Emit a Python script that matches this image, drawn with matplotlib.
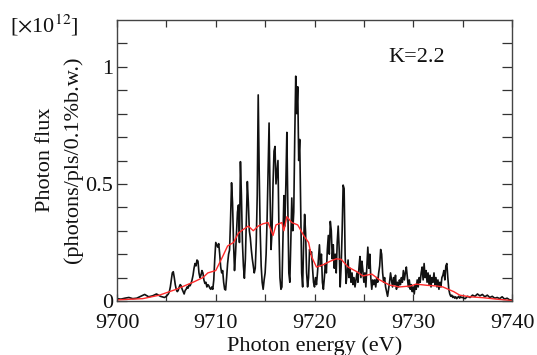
import numpy as np
import matplotlib
matplotlib.use("Agg")
import matplotlib.pyplot as plt

plt.rcParams['font.family'] = ['Liberation Serif', 'DejaVu Serif']
plt.rcParams['mathtext.fontset'] = 'stix'

# ---- black (measured) spectrum, three sampling segments ----
seg1_energy = np.round(np.arange(9700.0, 9704.81, 0.4), 2)
seg1_flux = [0.01, 0.008, 0.012, 0.015, 0.01, 0.012, 0.02, 0.028, 0.018, 0.022, 0.03, 0.02, 0.015]

seg2_energy = np.round(np.arange(9705.0, 9734.95, 0.1), 2)
seg2_flux = [
    0.02, 0.025, 0.03, 0.04, 0.06, 0.09, 0.12, 0.125, 0.10, 0.07,      # 9705
    0.05, 0.04, 0.045, 0.06, 0.07, 0.065, 0.05, 0.04, 0.03, 0.045,     # 9706
    0.05, 0.06, 0.055, 0.07, 0.065, 0.075, 0.09, 0.11, 0.14, 0.16,     # 9707
    0.15, 0.175, 0.17, 0.12, 0.10, 0.11, 0.13, 0.12, 0.09, 0.075,      # 9708
    0.08, 0.06, 0.07, 0.065, 0.055, 0.05, 0.06, 0.05, 0.09, 0.18,      # 9709
    0.25, 0.24, 0.23, 0.245, 0.20, 0.145, 0.12, 0.13, 0.08, 0.05,      # 9710
    0.047, 0.10, 0.16, 0.20, 0.218, 0.35, 0.505, 0.42, 0.25, 0.13,     # 9711
    0.20, 0.29, 0.38, 0.41, 0.25, 0.595, 0.45, 0.25, 0.15, 0.097,      # 9712
    0.18, 0.35, 0.51, 0.42, 0.30, 0.27, 0.22, 0.18, 0.15, 0.12,        # 9713
    0.14, 0.25, 0.45, 0.88, 0.55, 0.30, 0.15, 0.08, 0.05, 0.09,        # 9714
    0.12, 0.20, 0.35, 0.55, 0.76, 0.45, 0.22, 0.30, 0.50, 0.64,        # 9715
    0.66, 0.50, 0.55, 0.60, 0.30, 0.10, 0.05, 0.06, 0.25, 0.45,        # 9716
    0.32, 0.50, 0.72, 0.40, 0.12, 0.08, 0.25, 0.44, 0.30, 0.38,        # 9717
    0.70, 0.96, 0.80, 0.915, 0.60, 0.69, 0.40, 0.12, 0.06, 0.25,       # 9718
    0.37, 0.29, 0.12, 0.06, 0.10, 0.22, 0.20, 0.21, 0.14, 0.08,        # 9719
    0.06, 0.10, 0.07, 0.12, 0.18, 0.24, 0.15, 0.20, 0.08, 0.05,        # 9720
    0.10, 0.16, 0.12, 0.22, 0.28, 0.20, 0.34, 0.30, 0.18, 0.24,        # 9721
    0.14, 0.20, 0.12, 0.25, 0.32, 0.22, 0.06, 0.15, 0.30, 0.495,       # 9722
    0.48, 0.20, 0.075, 0.12, 0.175, 0.10, 0.14, 0.08, 0.12, 0.07,      # 9723
    0.10, 0.06, 0.09, 0.12, 0.08, 0.14, 0.19, 0.10, 0.17, 0.13,        # 9724
    0.08, 0.12, 0.06, 0.15, 0.23, 0.14, 0.20, 0.10, 0.05, 0.09,        # 9725
    0.07, 0.09, 0.06, 0.10, 0.08, 0.12, 0.15, 0.22, 0.20, 0.12,        # 9726
    0.08, 0.10, 0.06, 0.04, 0.02, 0.05, 0.08, 0.12, 0.09, 0.06,        # 9727
    0.10, 0.07, 0.11, 0.05, 0.08, 0.06, 0.09, 0.07, 0.10, 0.08,        # 9728
    0.13, 0.09, 0.12, 0.145, 0.10, 0.06, 0.09, 0.05, 0.07, 0.04,       # 9729
    0.06, 0.03, 0.07, 0.05, 0.09, 0.06, 0.10, 0.08, 0.12, 0.145,       # 9730
    0.09, 0.16, 0.10, 0.13, 0.08, 0.12, 0.07, 0.11, 0.06, 0.10,        # 9731
    0.08, 0.12, 0.07, 0.10, 0.06, 0.09, 0.05, 0.08, 0.06, 0.10,        # 9732
    0.11, 0.13, 0.09, 0.15, 0.16, 0.10, 0.05, 0.03, 0.02, 0.025,       # 9733
    0.015, 0.02, 0.012, 0.018, 0.01, 0.015, 0.02, 0.012, 0.018, 0.015, # 9734
]

seg3_energy = np.round(np.arange(9735.0, 9740.01, 0.25), 2)
seg3_flux = [0.015, 0.01, 0.02, 0.015, 0.025, 0.02, 0.03, 0.022, 0.028, 0.018,
             0.025, 0.015, 0.02, 0.012, 0.015, 0.01, 0.018, 0.008, 0.012, 0.005, 0.004]

# ---- red (averaged) spectrum ----
avg_energy = [9700.0, 9702.6, 9704.3, 9706.0, 9707.7, 9708.7, 9709.2, 9710.0, 9710.7,
              9711.2, 9711.8, 9712.3, 9712.6, 9713.3, 9713.8, 9714.3, 9714.8, 9715.3,
              9715.8, 9716.1, 9716.7, 9716.9, 9717.2, 9717.7, 9718.3, 9718.9, 9719.4,
              9719.7, 9720.2, 9720.9, 9721.6, 9722.2, 9722.7, 9723.4, 9724.3, 9724.9,
              9725.8, 9726.6, 9727.6, 9728.6, 9729.7, 9730.3, 9731.4, 9732.4, 9733.0,
              9734.1, 9734.7, 9735.7, 9737.1, 9738.4, 9740.0]
avg_flux = [0.005, 0.01, 0.025, 0.05, 0.08, 0.10, 0.12, 0.13, 0.19,
            0.235, 0.25, 0.29, 0.30, 0.32, 0.30, 0.32, 0.33, 0.335,
            0.28, 0.325, 0.335, 0.30, 0.36, 0.335, 0.325, 0.28, 0.25,
            0.19, 0.145, 0.155, 0.17, 0.18, 0.178, 0.145, 0.125, 0.107,
            0.115, 0.09, 0.068, 0.06, 0.064, 0.072, 0.067, 0.064, 0.06,
            0.04, 0.025, 0.018, 0.014, 0.008, 0.002]

x_ticks = [9700, 9710, 9720, 9730, 9740]
y_ticks = [0, 0.5, 1]
y_tick_labels = ["0", "0.5", "1"]

energy = np.concatenate([seg1_energy, seg2_energy, seg3_energy])
flux = np.concatenate([seg1_flux, seg2_flux, seg3_flux])

fig = plt.figure(figsize=(5.37, 3.55), dpi=100)
ax = fig.add_axes([117/537, 1 - 301/355, (512 - 117)/537, (301 - 20)/355])

ax.plot(energy, flux, color='#111111', lw=1.2)
ax.plot(avg_energy, avg_flux, color='#ff2a2a', lw=1.0)

ax.set_xlim(9700, 9740)
ax.set_ylim(0, 1.2)
ax.set_xticks(x_ticks)
ax.set_xticklabels([str(t) for t in x_ticks])
ax.set_xticks(np.arange(9705, 9740, 10), minor=True)
ax.set_yticks(y_ticks)
ax.set_yticklabels(y_tick_labels)
ax.set_yticks([0.1, 0.2, 0.3, 0.4, 0.6, 0.7, 0.8, 0.9, 1.1], minor=True)

ax.tick_params(axis='both', which='both', direction='in', top=True, right=True,
               colors='#333333', labelcolor='#111111', labelsize=16, width=0.9)
ax.tick_params(axis='y', which='both', length=7, pad=3)
ax.tick_params(axis='x', which='both', length=5, pad=9)

for s in ax.spines.values():
    s.set_color('#444444')
    s.set_linewidth(1.0)

ax.set_xlabel("Photon energy (eV)", fontsize=16, labelpad=3, color='#111111')
fig.text(45/537, 1 - 160/355, "Photon flux", rotation=90, fontsize=16,
         ha='center', va='center', color='#111111')
fig.text(73/537, 1 - 160/355, "(photons/pls/0.1%b.w.)", rotation=90, fontsize=16,
         ha='center', va='center', color='#111111')
fig.text(10/537, 1 - 33/355, r"[$\times$10$^{12}$]", fontsize=16,
         ha='left', va='baseline', color='#111111')
ax.text(9730.3, 1.04, "K=2.2", fontsize=16, ha='center', va='center', color='#111111')

fig.savefig("out.png", dpi=100)
